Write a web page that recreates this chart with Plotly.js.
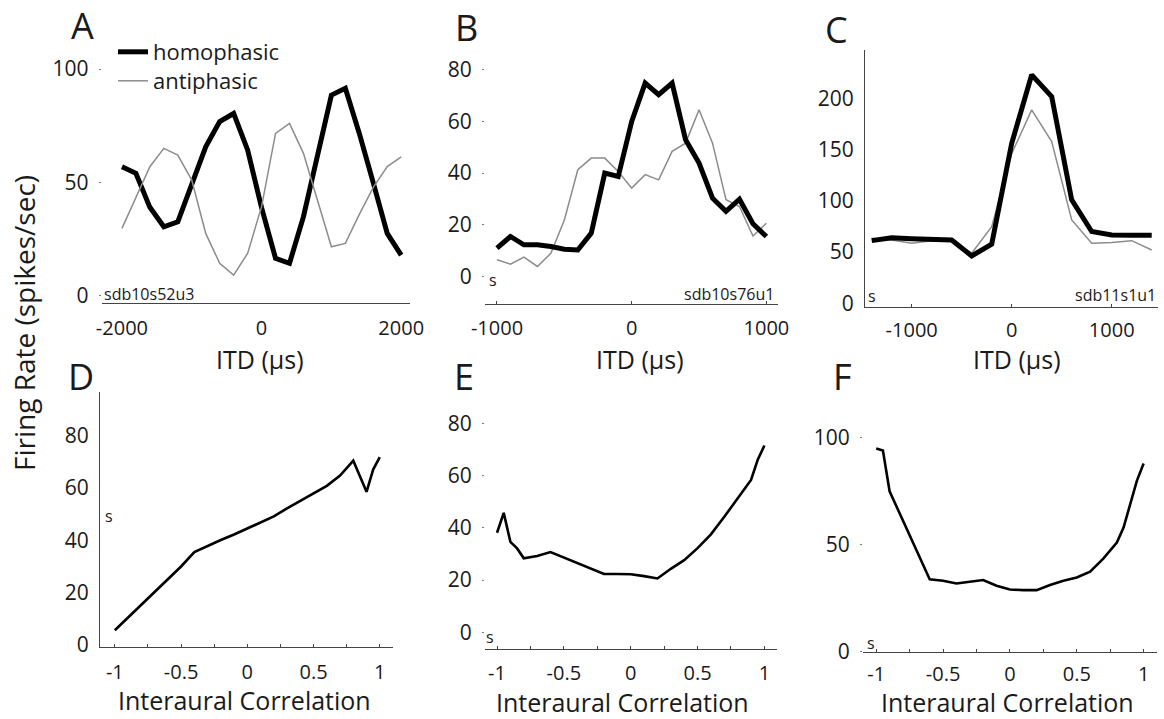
<!DOCTYPE html>
<html><head><meta charset="utf-8">
<script src="https://cdn.plot.ly/plotly-3.0.1.min.js"></script>
<style>html,body{margin:0;padding:0;background:#fff}</style>
</head><body><div id="chart" style="width:1164px;height:719px"></div>
<script>
// ---- data ----
const itdA = [-2000,-1800,-1600,-1400,-1200,-1000,-800,-600,-400,-200,0,200,400,600,800,1000,1200,1400,1600,1800,2000];
const homA = [56.9,54,39,30.4,32.6,49.4,65.7,76.8,80.4,64.3,38.9,16.5,14.3,34.9,61.7,88.5,91.5,71.6,49.8,27.5,17.9];
const antiA = [29.7,43.7,56.9,65,62,51,27.5,14.3,9.1,18.7,39.3,71.6,76,62.8,42.2,21.6,23.1,35.9,47.8,57,61.3];

const itdB = [-1000,-900,-800,-700,-600,-500,-400,-300,-200,-100,0,100,200,300,400,500,600,700,800,900,1000];
const homB = [11,15.5,12.3,12.3,11.6,10.6,10.3,16.8,40,38.7,60,74.8,70.3,74.8,52.9,43.9,30.3,25.2,29.9,20.4,15.5];
const antiB = [6.5,4.8,7.5,3.9,9,21.9,41.3,45.8,45.8,40.6,34.2,39.4,37.4,48.4,51.6,64.5,51.6,29.7,27.1,15.7,20.6];

const itdC = [-1400,-1200,-1000,-800,-600,-400,-200,0,200,400,600,800,1000,1200,1400];
const homC = [61.1,64,63,62.4,61.8,46.2,57.6,156,222.8,201.6,100.8,70,66.7,66.3,66.3];
const antiC = [63.4,61.8,58.5,61,61,48.8,74.8,146,188.6,157.7,81.3,58.5,59.2,61.1,52];

const corrD = [-1,-0.9,-0.8,-0.7,-0.6,-0.5,-0.4,-0.3,-0.2,-0.1,0,0.1,0.2,0.3,0.4,0.5,0.6,0.7,0.8,0.9,0.95,1];
const rateD = [5.7,10.6,15.4,20.2,25,30,35.5,37.9,40.1,42.2,44.6,46.7,49.1,52.2,55,57.9,60.8,64.7,70.4,58.5,67,71.7];

const corrE = [-1,-0.95,-0.9,-0.85,-0.8,-0.7,-0.6,-0.5,-0.4,-0.3,-0.2,-0.1,0,0.1,0.2,0.3,0.4,0.5,0.6,0.7,0.8,0.9,0.95,1];
const rateE = [38.1,45.7,34.6,32.1,28.3,29.2,30.7,28.6,26.4,24.3,22.3,22.3,22.2,21.5,20.6,24.3,27.6,32.2,37.5,44.2,51.3,58.3,66,71.5];

const corrF = [-1,-0.95,-0.9,-0.8,-0.7,-0.6,-0.5,-0.4,-0.3,-0.2,-0.1,0,0.1,0.2,0.3,0.4,0.5,0.6,0.7,0.8,0.85,0.9,0.95,1];
const rateF = [95,94,75,61.5,47.5,33.8,33.2,31.9,32.7,33.5,30.8,29.1,28.8,28.8,31.2,33.2,34.7,37.4,43.6,51,58,69,80,88];

const itdTicksA = [-2000,0,2000];
const itdTicksBC = [-1000,0,1000];
const corrTicks = [-1,-0.75,-0.5,-0.25,0,0.25,0.5,0.75,1];
const corrTickText = ['-1','','-0.5','','0','','0.5','','1'];
const unitNames = ['sdb10s52u3','sdb10s76u1','sdb11s1u1'];
const panelLetters = ['A','B','C','D','E','F'];
const seriesNames = ['homophasic','antiphasic'];
const xTitleITD = 'ITD (µs)';
const xTitleCorr = 'Interaural Correlation';
const yTitle = 'Firing Rate (spikes/sec)';

// ---- layout helpers ----
const W = 1164, H = 719;
const FONT = 'Open Sans, Liberation Sans, sans-serif';
const INK = '#1a1a1a';
const dx = (a,b) => [a/W, b/W];
const dy = (top,bot) => [1-bot/H, 1-top/H];
const px = x => x/W;
const py = y => 1-y/H;

const thick = {color:'#000', width:5};
const thin = {color:'#8c8c8c', width:1.5};
const mid = {color:'#000', width:2.6};

const traces = [
  {x:itdA, y:homA, name:seriesNames[0], mode:'lines', line:thick, xaxis:'x', yaxis:'y', showlegend:true, legend:'legend'},
  {x:itdA, y:antiA, name:seriesNames[1], mode:'lines', line:thin, xaxis:'x', yaxis:'y', showlegend:true, legend:'legend2'},
  {x:itdB, y:antiB, mode:'lines', line:thin, xaxis:'x2', yaxis:'y2', showlegend:false},
  {x:itdB, y:homB, mode:'lines', line:thick, xaxis:'x2', yaxis:'y2', showlegend:false},
  {x:itdC, y:antiC, mode:'lines', line:thin, xaxis:'x3', yaxis:'y3', showlegend:false},
  {x:itdC, y:homC, mode:'lines', line:thick, xaxis:'x3', yaxis:'y3', showlegend:false},
  {x:corrD, y:rateD, mode:'lines', line:mid, xaxis:'x4', yaxis:'y4', showlegend:false},
  {x:corrE, y:rateE, mode:'lines', line:mid, xaxis:'x5', yaxis:'y5', showlegend:false},
  {x:corrF, y:rateF, mode:'lines', line:mid, xaxis:'x6', yaxis:'y6', showlegend:false}
];

const yTickFont = {family:FONT, size:21, color:INK};
const xTickFont = {family:FONT, size:20, color:INK};
const LINEC = '#444';

function xax(domain, range, tickvals, ticktext, ticks, standoff, anchor) {
  return {domain, range, tickvals, ticktext, anchor, showgrid:false, zeroline:false,
    showline:true, linecolor:LINEC, linewidth:1, ticks:ticks, ticklen:3, tickcolor:LINEC,
    tickfont:xTickFont, ticklabelstandoff:standoff, fixedrange:true};
}
function yax(domain, range, tickvals, showline, anchor) {
  return {domain, range, tickvals, anchor, showgrid:false, zeroline:false,
    showline:showline, linecolor:LINEC, linewidth:1, ticks: showline ? '' : 'outside', ticklen:2, tickcolor:'#777',
    tickfont:yTickFont, ticklabelstandoff:6, fixedrange:true};
}
function legendAt(x, y) {
  return {x:px(x), y:py(y), xanchor:'left', yanchor:'top', bgcolor:'rgba(0,0,0,0)',
          font:{family:FONT, size:22, color:INK}, itemwidth:30};
}

const layout = {
  width:W, height:H, margin:{l:0,r:0,t:0,b:0},
  paper_bgcolor:'#fff', plot_bgcolor:'rgba(0,0,0,0)',
  font:{family:FONT, color:INK},
  showlegend:true,
  legend: legendAt(113, 31),
  legend2: legendAt(113, 60),
  xaxis: xax(dx(101.7,410), [-2290,2126], itdTicksA, ['-2000','0','2000'], '', 7, 'y'),
  yaxis: yax(dy(50,303), [-3.2,108.4], [0,50,100], false, 'x'),
  xaxis2: xax(dx(485,778), [-1089,1086], itdTicksBC, ['-1000','0','1000'], 'inside', 6, 'y2'),
  yaxis2: yax(dy(50,304), [-10.6,87.6], [0,20,40,60,80], false, 'x2'),
  xaxis3: xax(dx(865,1158), [-1467,1463], itdTicksBC, ['-1000','0','1000'], 'inside', 5, 'y3'),
  yaxis3: yax(dy(50,307), [-3.6,247], [0,50,100,150,200], true, 'x3'),
  xaxis4: xax(dx(100,393.3), [-1.112,1.102], corrTicks, corrTickText, 'inside', 7, 'y4'),
  yaxis4: yax(dy(391.7,646.7), [-0.6,96.7], [0,20,40,60,80], true, 'x4'),
  xaxis5: xax(dx(485,776.7), [-1.09,1.092], corrTicks, corrTickText, 'inside', 6, 'y5'),
  yaxis5: yax(dy(395,649.3), [-6.5,90.8], [0,20,40,60,80], false, 'x5'),
  xaxis6: xax(dx(863,1156.7), [-1.099,1.098], corrTicks, corrTickText, 'inside', 4, 'y6'),
  yaxis6: yax(dy(395,651.7), [0,120], [0,50,100], false, 'x6'),
  annotations: []
};

function note(text, x, y, size, extra) {
  layout.annotations.push(Object.assign({text, xref:'paper', yref:'paper', x:px(x), y:py(y),
    xanchor:'center', yanchor:'middle', showarrow:false, font:{family:FONT, size, color:INK}}, extra || {}));
}

const letterPos = [[82,26],[466,28],[836,30],[81,376],[464,376],[842,377]];
panelLetters.forEach((t,i) => note(t, letterPos[i][0], letterPos[i][1], 36));

note(yTitle, 24, 323, 28, {textangle:-90});

// axis titles
note(xTitleITD, 260, 359, 25);
note(xTitleITD, 640, 359, 25);
note(xTitleITD, 1017, 359, 25);
note(xTitleCorr, 244, 700, 25);
note(xTitleCorr, 622, 701.5, 25);
note(xTitleCorr, 1007, 701.5, 25);

// unit labels and small marks
note(unitNames[0], 102, 294, 16, {xanchor:'left'});
note(unitNames[1], 776, 294, 16, {xanchor:'right'});
note(unitNames[2], 1158, 295, 16, {xanchor:'right'});
[[493,280],[872,296],[109,516],[490,637],[871,643]].forEach(p => note('s', p[0], p[1], 16));

Plotly.newPlot('chart', traces, layout, {staticPlot:true, displayModeBar:false});
</script></body></html>
